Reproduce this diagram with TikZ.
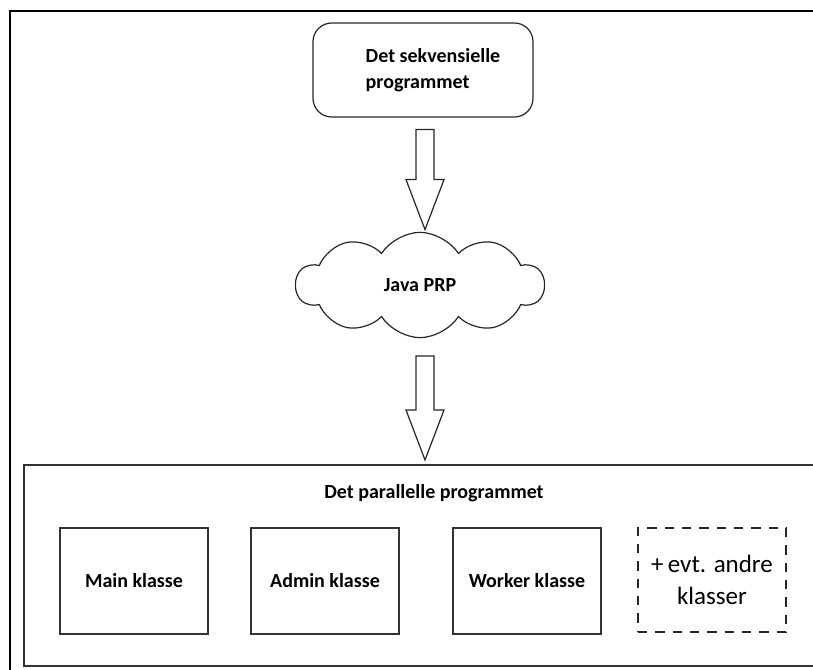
\documentclass[tikz,border=0pt]{standalone}
\usepackage{fontspec}
\setmainfont{Carlito}
\usetikzlibrary{shapes.symbols,calc}
% hollow block arrow from #1 (tail) down to #2 (tip)
\newcommand\hollowarrow[2]{%
  \draw[blockarrow] let \p1=(#1), \p2=(#2) in
    (\x1-6.75pt,\y1) -- (\x1+6.75pt,\y1) -- (\x1+6.75pt,\y2+37.5pt)
    -- (\x1+14.25pt,\y2+37.5pt) -- (\x2,\y2) -- (\x1-14.25pt,\y2+37.5pt)
    -- (\x1-6.75pt,\y2+37.5pt) -- cycle;}
\begin{document}
\begin{tikzpicture}[x=0.75pt,y=-0.75pt,
  lbl/.style={font=\bfseries\fontsize{15}{19.5}\selectfont},
  classbox/.style={draw=black!80, line width=1pt, minimum width=111pt,
    minimum height=79.5pt, inner sep=0pt, lbl},
  otherbox/.style={draw=black!85, line width=1pt, dash pattern=on 7pt off 6pt,
    minimum width=111pt, minimum height=78pt, inner sep=0pt, align=center,
    font=\fontsize{18.75}{24}\selectfont},
  seqbox/.style={draw=black!85, line width=0.9pt, rounded corners=14pt,
    minimum width=165pt, minimum height=70.5pt, inner sep=0pt, lbl},
  prpcloud/.style={cloud, cloud puffs=10, cloud puff arc=115, aspect=2.3,
    draw=black!85, line width=0.9pt, minimum width=186pt, minimum height=79pt,
    inner sep=0pt, lbl},
  blockarrow/.style={draw=black!85, line width=0.9pt, fill=white, line join=miter}]
\useasboundingbox (0,0) rectangle (813,670);

% outer frame (open to the right and bottom)
\draw[line width=2pt] (10,670) -- (10,11) -- (813,11);

% sequential program
\node[seqbox] (seq) at (423,70)
  {\raisebox{2.5pt}{\begin{tabular}{@{\hspace{15pt}}l@{}}Det sekvensielle\\programmet\end{tabular}}};

% Java PRP cloud
\node[prpcloud] (prp) at (420,285) {Java PRP};

% parallel program frame
\draw[draw=black!80, line width=1pt] (813,465) -- (24,465) -- (24,666) -- (813,666);
\node[lbl] (par) at (434,493) {Det parallelle programmet};

% classes
\node[classbox] (main)   at (134,581) {Main klasse};
\node[classbox] (admin)  at (325,581) {Admin klasse};
\node[classbox] (worker) at (527,581) {Worker klasse};
\node[otherbox] (others) at (712,580) {+\,evt. andre\\klasser};

% block arrows
\coordinate (a1s) at ($(seq.south)+(2,12)$);
\coordinate (a1e) at ($(seq.south)+(2,112)$);
\coordinate (a2s) at ($(par)+(-9,-137)$);
\coordinate (a2e) at ($(par)+(-9,-33)$);
\hollowarrow{a1s}{a1e}
\hollowarrow{a2s}{a2e}
\end{tikzpicture}
\end{document}
